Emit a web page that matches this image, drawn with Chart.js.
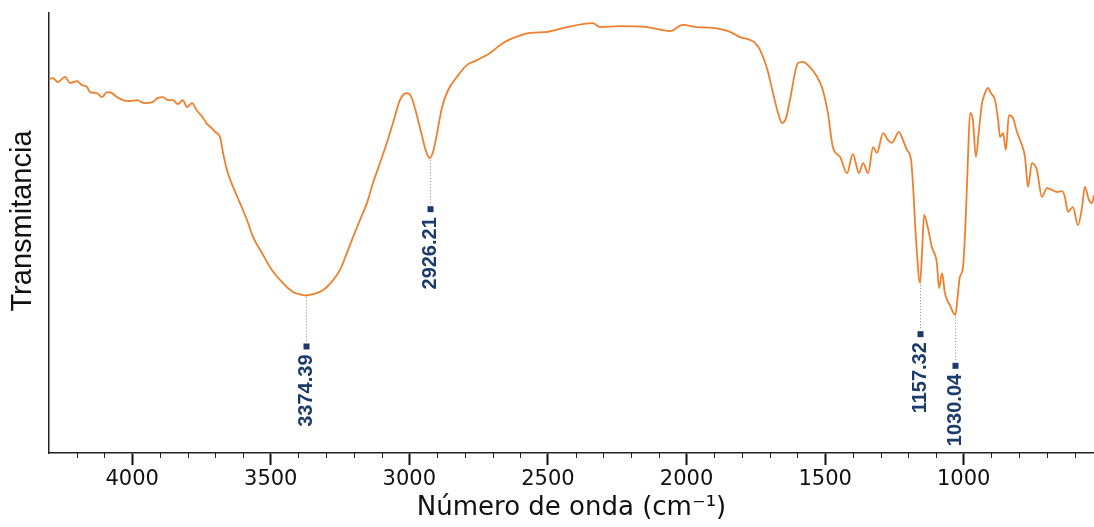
<!DOCTYPE html>
<html>
<head>
<meta charset="utf-8">
<title>Espectro FTIR</title>
<script src="https://cdn.jsdelivr.net/npm/chart.js@4.4.1/dist/chart.umd.min.js"></script>
<style>
  html, body { margin: 0; padding: 0; background: #fff; }
  #chart { display: block; }
</style>
</head>
<body>
<canvas id="chart" width="1094" height="527"></canvas>
<script>
// ---------------- DATA ----------------
const wavenumbers = [
    4300, 4286, 4268, 4242, 4224, 4199, 4181, 4163, 4152, 4127, 4109, 4091, 4073, 4055, 4033, 4008,
    3983, 3954, 3925, 3907, 3889, 3871, 3853, 3835, 3817, 3802, 3784, 3766, 3748, 3730, 3712, 3701,
    3683, 3672, 3658, 3636, 3611, 3586, 3564, 3532, 3496, 3456, 3420, 3384, 3374.39, 3348, 3312, 3275,
    3250, 3225, 3203, 3178, 3153, 3131, 3106, 3081, 3059, 3034, 3019, 3009, 2994, 2980, 2970, 2954,
    2940, 2926.21, 2912, 2900, 2882, 2860, 2828, 2792, 2756, 2709, 2662, 2626, 2565, 2503, 2431, 2338,
    2312, 2240, 2143, 2060, 2013, 1962, 1905, 1843, 1807, 1771, 1753, 1735, 1710, 1688, 1670, 1656,
    1641, 1627, 1598, 1580, 1555, 1533, 1511, 1490, 1472, 1446, 1421, 1400, 1378, 1363, 1345, 1327,
    1313, 1291, 1273, 1259, 1234, 1219, 1205, 1190, 1183, 1172, 1157.32, 1150, 1143, 1129, 1115, 1097,
    1089, 1078, 1068, 1050, 1030.04, 1022, 1014, 1003, 992, 985, 977, 967, 956, 945, 934, 923,
    913, 902, 887, 876, 869, 858, 848, 837, 822, 808, 793, 779, 768, 754, 736, 718,
    700, 682, 664, 646, 635, 624, 606, 588, 573, 563, 548, 537, 530
];
const transmittance = [
    85.0, 85.2, 84.3, 85.5, 84.1, 84.5, 83.6, 83.2, 82.0, 81.8, 80.9, 82.0, 81.8, 80.9, 80.2, 80.0,
    80.2, 79.5, 79.8, 80.7, 80.9, 80.2, 80.2, 79.3, 80.2, 78.6, 79.5, 77.8, 76.5, 74.8, 73.8, 73.0,
    71.8, 68.2, 64.3, 60.5, 56.8, 53.0, 49.1, 45.5, 41.6, 38.6, 36.6, 35.9, 35.8, 36.1, 37.0, 39.3,
    41.6, 45.5, 49.1, 53.0, 56.8, 61.4, 65.9, 70.5, 75.0, 80.2, 81.6, 81.8, 81.1, 78.4, 76.0, 72.0,
    68.6, 67.0, 69.0, 72.7, 78.6, 82.5, 85.5, 88.2, 89.3, 90.9, 93.2, 94.3, 95.5, 95.7, 96.8, 97.7,
    96.8, 97.0, 96.8, 95.9, 97.3, 96.8, 96.6, 95.7, 94.5, 93.9, 93.2, 91.6, 87.5, 81.8, 77.3, 75.0,
    76.1, 80.2, 88.6, 88.9, 87.7, 85.9, 83.0, 77.3, 69.5, 67.3, 63.6, 68.0, 63.6, 65.9, 63.6, 69.5,
    68.2, 72.7, 71.1, 70.5, 73.0, 71.1, 68.9, 66.6, 60.9, 48.4, 38.6, 46.1, 54.1, 51.1, 46.8, 43.2,
    37.5, 40.9, 36.4, 33.6, 31.4, 35.5, 40.0, 42.0, 54.5, 66.6, 77.3, 75.7, 67.3, 73.4, 79.5, 81.8,
    83.0, 81.8, 80.2, 75.7, 71.8, 72.7, 68.9, 76.8, 76.1, 73.0, 70.5, 67.3, 60.5, 65.9, 64.3, 58.2,
    60.2, 59.8, 59.3, 59.5, 58.2, 54.8, 55.9, 51.8, 55.9, 60.5, 57.5, 56.8, 58.6
];

// marked bands
const peakPositions = [3374.39, 2926.21, 1157.32, 1030.04];
const peakLabels = ["3374.39", "2926.21", "1157.32", "1030.04"];

// axis
const xTickValues = [4000, 3500, 3000, 2500, 2000, 1500, 1000];
const xMin = 530;
const xMax = 4300;

const lineColor = "#ef7f2c";
const labelColor = "#1c3a6b";

// ---------------- EXTRAS ----------------
// minor ticks, y title and the peak markers
const extrasPlugin = {
    id: "extras",
    afterDraw(chart) {
        const ctx = chart.ctx;
        const xs = chart.scales.x;
        const ys = chart.scales.y;
        const area = chart.chartArea;

        ctx.save();
        ctx.strokeStyle = "#222";
        ctx.lineWidth = 1;
        for (let v = 600; v <= 4200; v += 100) {
            if (v % 500 === 0) continue;
            const px = Math.round(xs.getPixelForValue(v)) + 0.5;
            ctx.beginPath();
            ctx.moveTo(px, area.bottom);
            ctx.lineTo(px, area.bottom + 5);
            ctx.stroke();
        }
        ctx.restore();

        ctx.save();
        ctx.fillStyle = "#111";
        ctx.font = "29px 'Liberation Sans', Arial, sans-serif";
        ctx.translate(23, (area.top + area.bottom) / 2 - 12);
        ctx.rotate(-Math.PI / 2);
        ctx.textAlign = "center";
        ctx.textBaseline = "middle";
        ctx.fillText("Transmitancia", 0, 0);
        ctx.restore();

        peakPositions.forEach((wn, i) => {
            let best = 0;
            wavenumbers.forEach((w, j) => {
                if (Math.abs(w - wn) < Math.abs(wavenumbers[best] - wn)) best = j;
            });
            const px = Math.round(xs.getPixelForValue(wn)) + 0.5;
            const py = ys.getPixelForValue(transmittance[best]);

            ctx.save();
            ctx.strokeStyle = "#8a8a8a";
            ctx.lineWidth = 1;
            ctx.setLineDash([1, 2]);
            ctx.beginPath();
            ctx.moveTo(px, py + 2);
            ctx.lineTo(px, py + 47);
            ctx.stroke();

            ctx.fillStyle = labelColor;
            ctx.fillRect(px - 3, py + 48, 6, 6);

            ctx.translate(px, py + 59);
            ctx.rotate(-Math.PI / 2);
            ctx.font = "bold 20px 'Liberation Sans', Arial, sans-serif";
            ctx.textAlign = "right";
            ctx.textBaseline = "middle";
            ctx.fillText(peakLabels[i], 0, 0);
            ctx.restore();
        });
    }
};

// ---------------- CHART ----------------
function initChart() {
    const ctx = document.getElementById("chart").getContext("2d");
    const points = wavenumbers.map((w, i) => ({ x: w, y: transmittance[i] }));

    new Chart(ctx, {
        type: "line",
        data: {
            datasets: [{
                label: "Transmitancia",
                data: points,
                borderColor: lineColor,
                borderWidth: 1.8,
                pointRadius: 0,
                fill: false,
                cubicInterpolationMode: "monotone"
            }]
        },
        options: {
            responsive: false,
            animation: false,
            devicePixelRatio: 1,
            layout: { padding: { top: 13, right: 0, left: 0, bottom: 0 } },
            plugins: {
                legend: { display: false },
                tooltip: { enabled: false }
            },
            scales: {
                x: {
                    type: "linear",
                    reverse: true,
                    min: xMin,
                    max: xMax,
                    afterBuildTicks: (scale) => {
                        scale.ticks = xTickValues.map(v => ({ value: v }));
                    },
                    afterFit: (scale) => { scale.height = 74; },
                    ticks: {
                        autoSkip: false,
                        maxRotation: 0,
                        padding: 2,
                        color: "#111",
                        font: { family: "'DejaVu Sans', sans-serif", size: 21 },
                        callback: (value) => String(value)
                    },
                    grid: {
                        drawOnChartArea: false,
                        drawTicks: true,
                        tickLength: 12,
                        tickWidth: 2,
                        tickColor: "#111"
                    },
                    border: { display: true, color: "#222", width: 1.5 },
                    title: {
                        display: true,
                        text: "Número de onda (cm⁻¹)",
                        color: "#111",
                        font: { family: "'DejaVu Sans', sans-serif", size: 26 },
                        padding: { top: 0, bottom: 3 }
                    }
                },
                y: {
                    min: 0,
                    max: 100,
                    afterFit: (scale) => { scale.width = 49; },
                    ticks: { display: false },
                    grid: { display: true, drawOnChartArea: false, drawTicks: false },
                    border: { display: true, color: "#222", width: 1.5 }
                }
            }
        },
        plugins: [extrasPlugin]
    });
}

// ---------------- INIT ----------------
window.onload = initChart;
</script>
</body>
</html>
